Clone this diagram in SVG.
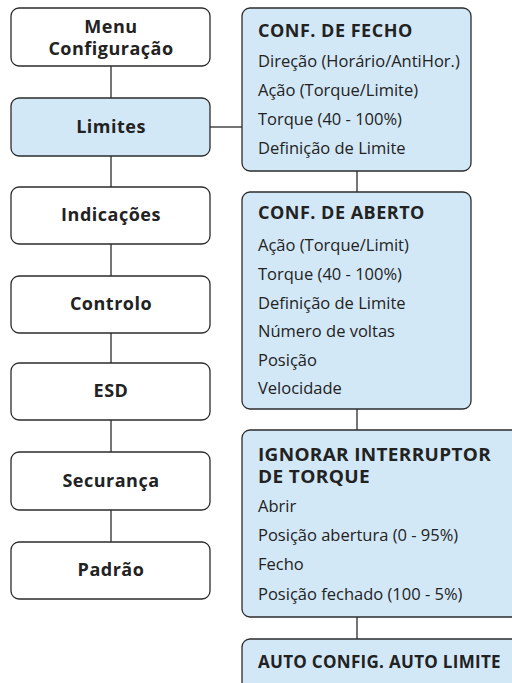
<svg xmlns="http://www.w3.org/2000/svg" width="512" height="683" viewBox="0 0 512 683">
<style>
.box{fill:#ffffff;stroke:#2b2b2b;stroke-width:1.3}
.blue{fill:#d3e8f7;stroke:#2b2b2b;stroke-width:1.3}
.lt{font-family:"Open Sans","Noto Sans",sans-serif;font-weight:bold;font-size:18px;letter-spacing:0.5px;fill:#222;text-anchor:middle}
.hd{font-family:"Open Sans","Noto Sans",sans-serif;font-weight:bold;font-size:18px;letter-spacing:0.5px;fill:#222}
.hs{font-family:"Open Sans","Noto Sans",sans-serif;font-weight:bold;font-size:17px;letter-spacing:0.3px;fill:#222}
.it{font-family:"Open Sans","Noto Sans",sans-serif;font-size:16.5px;fill:#222}
.con{stroke:#2b2b2b;stroke-width:1.3;fill:none}
</style>
<rect width="512" height="683" fill="#ffffff"/>
<g id="connectors">
<line class="con" x1="111" y1="66" x2="111" y2="98"/>
<line class="con" x1="111" y1="156" x2="111" y2="187"/>
<line class="con" x1="111" y1="244" x2="111" y2="276"/>
<line class="con" x1="111" y1="333" x2="111" y2="363"/>
<line class="con" x1="111" y1="420" x2="111" y2="452"/>
<line class="con" x1="111" y1="510" x2="111" y2="542"/>
<line class="con" x1="210" y1="127" x2="242" y2="127"/>
<line class="con" x1="357" y1="171" x2="357" y2="192"/>
<line class="con" x1="357" y1="409" x2="357" y2="430"/>
<line class="con" x1="357" y1="617" x2="357" y2="639"/>
</g>
<g id="menu">
<rect class="box" x="11" y="8" width="199" height="58" rx="8"/>
<text class="lt" x="111" y="33">Menu</text>
<text class="lt" x="111" y="55">Configuração</text>
</g>
<g id="limites">
<rect class="blue" x="11" y="98" width="199" height="58" rx="8"/>
<text class="lt" x="111" y="133">Limites</text>
</g>
<g id="indicacoes">
<rect class="box" x="11" y="187" width="199" height="57" rx="8"/>
<text class="lt" x="111" y="221">Indicações</text>
</g>
<g id="controlo">
<rect class="box" x="11" y="276" width="199" height="57" rx="8"/>
<text class="lt" x="111" y="310">Controlo</text>
</g>
<g id="esd">
<rect class="box" x="11" y="363" width="199" height="57" rx="8"/>
<text class="lt" x="111" y="397">ESD</text>
</g>
<g id="seguranca">
<rect class="box" x="11" y="452" width="199" height="58" rx="8"/>
<text class="lt" x="111" y="487">Securança</text>
</g>
<g id="padrao">
<rect class="box" x="11" y="542" width="199" height="57" rx="8"/>
<text class="lt" x="111" y="576">Padrão</text>
</g>
<g id="conf-fecho">
<rect class="blue" x="242" y="8" width="229" height="163" rx="8"/>
<text class="hd" x="258" y="37">CONF. DE FECHO</text>
<text class="it" x="258" y="67">Direção (Horário/AntiHor.)</text>
<text class="it" x="258" y="96">Ação (Torque/Limite)</text>
<text class="it" x="258" y="125">Torque (40 - 100%)</text>
<text class="it" x="258" y="154">Definição de Limite</text>
</g>
<g id="conf-aberto">
<rect class="blue" x="242" y="192" width="229" height="217" rx="8"/>
<text class="hd" x="258" y="219">CONF. DE ABERTO</text>
<text class="it" x="258" y="251">Ação (Torque/Limit)</text>
<text class="it" x="258" y="280">Torque (40 - 100%)</text>
<text class="it" x="258" y="309">Definição de Limite</text>
<text class="it" x="258" y="337">Número de voltas</text>
<text class="it" x="258" y="366">Posição</text>
<text class="it" x="258" y="394">Velocidade</text>
</g>
<g id="ignorar">
<rect class="blue" x="242" y="430" width="290" height="187" rx="8"/>
<text class="hs" x="258" y="461" textLength="233" lengthAdjust="spacingAndGlyphs">IGNORAR INTERRUPTOR</text>
<text class="hs" x="258" y="483" textLength="112" lengthAdjust="spacingAndGlyphs">DE TORQUE</text>
<text class="it" x="258" y="512">Abrir</text>
<text class="it" x="258" y="541">Posição abertura (0 - 95%)</text>
<text class="it" x="258" y="570">Fecho</text>
<text class="it" x="258" y="600">Posição fechado (100 - 5%)</text>
</g>
<g id="auto">
<rect class="blue" x="242" y="639" width="290" height="70" rx="8"/>
<text class="hs" x="258" y="668">AUTO CONFIG. AUTO LIMITE</text>
</g>
</svg>
